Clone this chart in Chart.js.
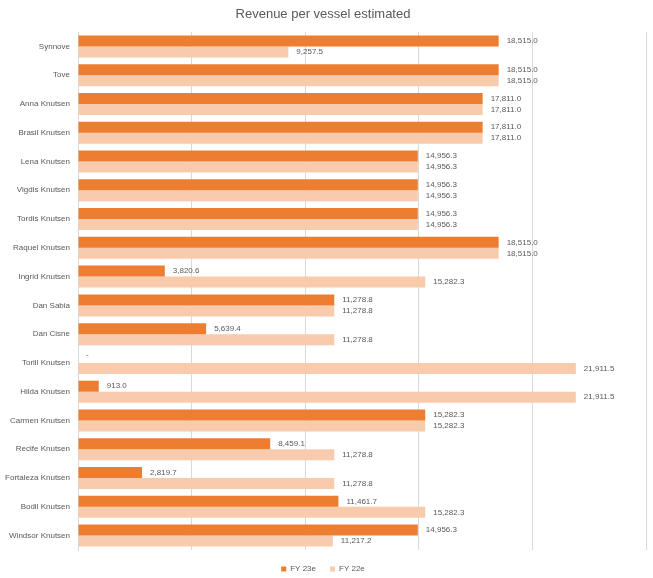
<!DOCTYPE html>
<html><head><meta charset="utf-8">
<script src="https://cdn.jsdelivr.net/npm/chart.js@4.4.1/dist/chart.umd.min.js"></script>
<style>html,body{margin:0;padding:0;background:#fff}#wrap{width:653px;height:578px}</style>
</head><body><div id="wrap"><canvas id="c" width="653" height="578"></canvas></div>
<script>
const categories = ["Synnove","Tove","Anna Knutsen","Brasil Knutsen","Lena Knutsen","Vigdis Knutsen","Tordis Knutsen","Raquel Knutsen","Ingrid Knutsen","Dan Sabia","Dan Cisne","Torill Knutsen","Hilda Knutsen","Carmen Knutsen","Recife Knutsen","Fortaleza Knutsen","Bodil Knutsen","Windsor Knutsen"];
const fy23e = [18515.0,18515.0,17811.0,17811.0,14956.3,14956.3,14956.3,18515.0,3820.6,11278.8,5639.4,0,913.0,15282.3,8459.1,2819.7,11461.7,14956.3];
const fy22e = [9257.5,18515.0,17811.0,17811.0,14956.3,14956.3,14956.3,18515.0,15282.3,11278.8,11278.8,21911.5,21911.5,15282.3,11278.8,11278.8,15282.3,11217.2];
const seriesNames = ["FY 23e","FY 22e"];
const xTicks = [0,5000,10000,15000,20000,25000];

const fmt = v => v === 0 ? "-" : v.toLocaleString("en-US",{minimumFractionDigits:1,maximumFractionDigits:1});
const textColor = "#595959";
const fontFam = "'Liberation Sans', Arial, sans-serif";

const labelPlugin = {
  id: "valLabels",
  afterDatasetsDraw(chart) {
    const ctx = chart.ctx;
    ctx.save();
    ctx.font = "8px " + fontFam;
    ctx.fillStyle = textColor;
    ctx.textBaseline = "middle";
    ctx.textAlign = "left";
    chart.data.datasets.forEach((ds, di) => {
      const meta = chart.getDatasetMeta(di);
      meta.data.forEach((el, i) => {
        const v = ds.data[i];
        ctx.fillText(fmt(v), el.x + 8, el.y + (v === 0 ? -3 : 0));
      });
    });
    ctx.restore();
  }
};

new Chart(document.getElementById("c"), {
  type: "bar",
  data: {
    labels: categories,
    datasets: [
      {label: seriesNames[0], data: fy23e, backgroundColor: "#ED7D31", barPercentage: 1, categoryPercentage: 0.765},
      {label: seriesNames[1], data: fy22e, backgroundColor: "#F8CBAD", barPercentage: 1, categoryPercentage: 0.765}
    ]
  },
  options: {
    indexAxis: "y",
    responsive: false,
    animation: false,
    devicePixelRatio: 1,
    layout: {padding: {left: 0, right: 7, top: 0, bottom: -5}},
    plugins: {
      title: {display: true, text: "Revenue per vessel estimated", color: textColor,
        font: {family: fontFam, size: 13, weight: "normal"}, padding: {top: 7, bottom: 9.4}},
      legend: {position: "bottom", labels: {color: textColor, font: {family: fontFam, size: 8},
        boxWidth: 5, boxHeight: 5, padding: 14}},
      tooltip: {enabled: false}
    },
    scales: {
      x: {min: 0, max: 25000,
        afterBuildTicks: s => { s.ticks = xTicks.map(v => ({value: v})); },
        afterFit: s => { s.height = 1; },
        ticks: {display: false},
        grid: {color: "#D9D9D9", drawTicks: false},
        border: {display: false}},
      y: {
        afterFit: s => { s.width = 78; },
        ticks: {color: textColor, font: {family: fontFam, size: 8}, padding: 8, autoSkip: false},
        grid: {display: false, drawTicks: false},
        border: {display: true, color: "#D9D9D9"}}
    }
  },
  plugins: [labelPlugin]
});
</script></body></html>
